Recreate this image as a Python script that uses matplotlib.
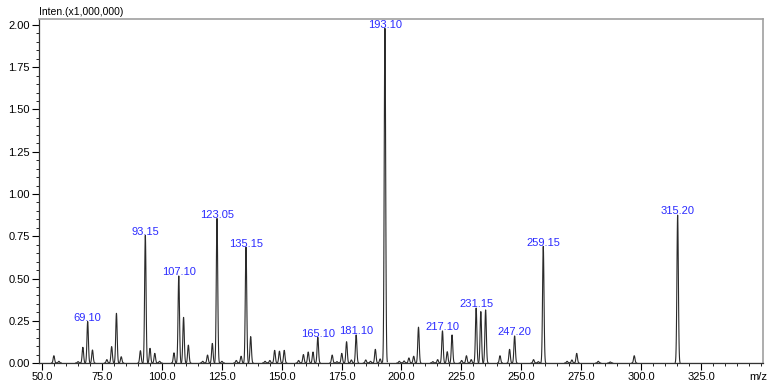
import numpy as np
import matplotlib
matplotlib.use('Agg')
import matplotlib.pyplot as plt
from matplotlib.ticker import MultipleLocator, FormatStrFormatter

plt.rcParams['font.family'] = ['Liberation Sans', 'DejaVu Sans']

# peak list: m/z and intensity (x1,000,000)
mz = [55.0, 57.1, 65.1, 67.1, 69.1, 71.1, 77.1, 79.1, 81.1, 83.1,
      91.1, 93.15, 95.1, 97.1, 99.1, 105.1, 107.1, 109.1, 111.1, 117.1,
      119.1, 121.1, 123.05, 125.1, 131.1, 133.1, 135.15, 137.1, 143.1, 145.1,
      147.1, 149.1, 151.1, 157.1, 159.1, 161.1, 163.1, 165.1, 171.1, 173.1,
      175.1, 177.1, 179.1, 181.1, 185.1, 187.1, 189.1, 191.1, 193.1, 199.1,
      201.1, 203.1, 205.1, 207.1, 213.1, 215.1, 217.1, 219.1, 221.1, 225.1,
      227.1, 229.1, 231.15, 233.1, 235.1, 241.1, 245.1, 247.2, 255.1, 257.1,
      259.15, 269.1, 271.1, 273.1, 282.1, 287.1, 297.1, 315.2]
inten = [0.043, 0.010, 0.008, 0.093, 0.245, 0.077, 0.020, 0.097, 0.294, 0.037,
         0.073, 0.755, 0.087, 0.057, 0.010, 0.060, 0.515, 0.270, 0.106, 0.010,
         0.047, 0.116, 0.855, 0.010, 0.015, 0.040, 0.685, 0.156, 0.010, 0.015,
         0.075, 0.070, 0.075, 0.015, 0.050, 0.065, 0.065, 0.152, 0.047, 0.008,
         0.057, 0.126, 0.018, 0.166, 0.018, 0.010, 0.081, 0.024, 1.980, 0.010,
         0.012, 0.030, 0.040, 0.212, 0.008, 0.020, 0.190, 0.067, 0.166, 0.015,
         0.043, 0.020, 0.325, 0.304, 0.314, 0.043, 0.081, 0.160, 0.020, 0.008,
         0.690, 0.010, 0.018, 0.057, 0.010, 0.006, 0.043, 0.875]

labels = ['69.10', '93.15', '107.10', '123.05', '135.15', '165.10', '181.10',
          '193.10', '217.10', '231.15', '247.20', '259.15', '315.20']

x_ticks = [50, 75, 100, 125, 150, 175, 200, 225, 250, 275, 300, 325]

fig = plt.figure(figsize=(7.71, 3.83), dpi=100)
ax = fig.add_axes([0.0506, 0.0522, 0.939, 0.898])

# profile shape for each centroid peak
offs = np.linspace(-1.0, 1.0, 41)
shape = np.exp(-offs**2 / (2 * 0.3**2))
for m, h in zip(mz, inten):
    ax.plot(m + offs, h * shape, color='#2a2a2a', lw=0.8)
ax.axhline(0, color='#2a2a2a', lw=0.8)

for lab in labels:
    v = float(lab)
    i = int(np.argmin(np.abs(np.array(mz) - v)))
    ax.annotate(lab, xy=(mz[i], inten[i]), xytext=(0, 0.5), textcoords='offset points',
                ha='center', va='baseline', color='#2b2bff', fontsize=8)

ax.set_xlim(48.8, 350.8)
ax.set_ylim(0, 2.035)
ax.set_xticks(x_ticks)
ax.xaxis.set_minor_locator(MultipleLocator(5))
ax.yaxis.set_major_locator(MultipleLocator(0.25))
ax.yaxis.set_minor_locator(MultipleLocator(0.05))
ax.xaxis.set_major_formatter(FormatStrFormatter('%.1f'))
ax.yaxis.set_major_formatter(FormatStrFormatter('%.2f'))
ax.tick_params(which='major', length=5, width=0.8, labelsize=8, pad=1.5)
ax.tick_params(which='minor', length=2.5, width=0.6)

for s in ['top', 'right']:
    ax.spines[s].set_color('#a0a0a0')
    ax.spines[s].set_linewidth(1.2)
for s in ['left', 'bottom']:
    ax.spines[s].set_color('#333333')
    ax.spines[s].set_linewidth(0.9)

ax.text(0.0, 1.005, 'Inten.(x1,000,000)', transform=ax.transAxes, ha='left', va='bottom',
        fontsize=7.5)
ax.annotate('m/z', xy=(0.994, 0), xycoords='axes fraction', xytext=(0, -6.5),
            textcoords='offset points', ha='center', va='top', fontsize=8)

fig.savefig('out.png', dpi=100)
